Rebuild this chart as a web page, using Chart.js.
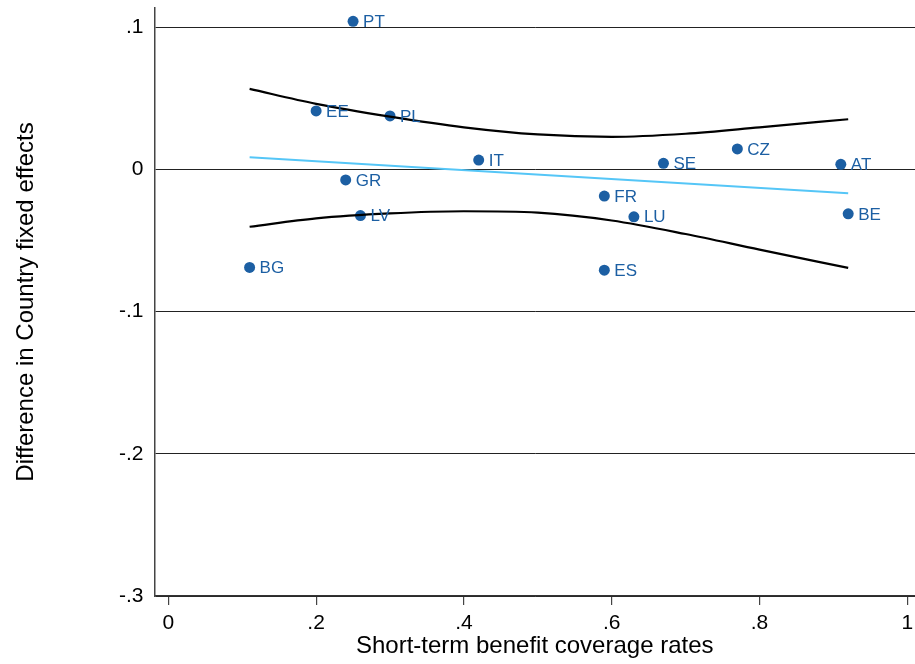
<!DOCTYPE html>
<html>
<head>
<meta charset="utf-8">
<script src="https://cdn.jsdelivr.net/npm/chart.js@4.4.1/dist/chart.umd.min.js"></script>
<style>
  html, body { margin: 0; padding: 0; background: #fff; }
  #wrap { width: 915px; height: 664px; }
</style>
</head>
<body>
<div id="wrap"><canvas id="c" width="915" height="664"></canvas></div>
<script>
// Country observations
const countries = ["PT","EE","PL","IT","GR","LV","BG","SE","CZ","AT","FR","LU","BE","ES"];
const coverage  = [0.25, 0.20, 0.30, 0.42, 0.24, 0.26, 0.11, 0.67, 0.77, 0.91, 0.59, 0.63, 0.92, 0.59];
const fixedDiff = [0.104, 0.041, 0.0375, 0.0065, -0.0075, -0.0325, -0.069, 0.0042, 0.0143, 0.0035, -0.0188, -0.0334, -0.0313, -0.0709];

// Linear fit and confidence bounds
const fitX     = [0.11, 0.92];
const fitY     = [0.0085, -0.0168];
const ciX      = [0.11, 0.2, 0.3, 0.4, 0.5, 0.6, 0.7, 0.8, 0.92];
const ciUpper  = [0.0565, 0.046, 0.037, 0.0295, 0.0245, 0.0228, 0.025, 0.0295, 0.0352];
const ciLower  = [-0.0404, -0.0345, -0.031, -0.0295, -0.0305, -0.036, -0.0455, -0.0565, -0.0693];

// Tick values
const xTicks = [0, 0.2, 0.4, 0.6, 0.8, 1];
const yTicks = [-0.3, -0.2, -0.1, 0, 0.1];

const xTitle = "Short-term benefit coverage rates";
const yTitle = "Difference in Country fixed effects";

const FONT = "'Liberation Sans', Arial, Helvetica, sans-serif";
const BLUE = "#1c5fa3";

function stataFmt(v) {
  let r = Math.round(v * 10) / 10;
  if (Math.abs(r) < 1e-9) return "0";
  let s = String(r);
  return s.replace(/^(-?)0\./, "$1.");
}

const pts = coverage.map((x, i) => ({ x: x, y: fixedDiff[i] }));
const fitPts = fitX.map((x, i) => ({ x: x, y: fitY[i] }));
const upPts = ciX.map((x, i) => ({ x: x, y: ciUpper[i] }));
const loPts = ciX.map((x, i) => ({ x: x, y: ciLower[i] }));

const labelPlugin = {
  id: 'pointLabels',
  afterDatasetsDraw(chart) {
    const meta = chart.getDatasetMeta(0);
    const ctx = chart.ctx;
    ctx.save();
    ctx.font = "17px " + FONT;
    ctx.fillStyle = BLUE;
    ctx.textAlign = "left";
    ctx.textBaseline = "middle";
    meta.data.forEach((el, i) => {
      ctx.fillText(countries[i], el.x + 10, el.y + 1);
    });
    ctx.restore();
  }
};

function zeroPad(s) {
  s.paddingTop = 0; s.paddingBottom = 0; s.paddingLeft = 0; s.paddingRight = 0;
}

new Chart(document.getElementById('c'), {
  type: 'scatter',
  data: {
    datasets: [
      {
        label: 'countries',
        data: pts,
        backgroundColor: BLUE,
        borderColor: BLUE,
        pointRadius: 5.5,
        pointHoverRadius: 5.5,
        borderWidth: 0,
        order: 3
      },
      {
        label: 'fit',
        type: 'line',
        data: fitPts,
        borderColor: '#55c6f7',
        borderWidth: 2,
        pointRadius: 0,
        fill: false,
        order: 1
      },
      {
        label: 'upper',
        type: 'line',
        data: upPts,
        borderColor: '#000',
        borderWidth: 2.2,
        pointRadius: 0,
        cubicInterpolationMode: 'monotone',
        fill: false,
        order: 1
      },
      {
        label: 'lower',
        type: 'line',
        data: loPts,
        borderColor: '#000',
        borderWidth: 2.2,
        pointRadius: 0,
        cubicInterpolationMode: 'monotone',
        fill: false,
        order: 1
      }
    ]
  },
  options: {
    responsive: false,
    animation: false,
    events: [],
    layout: { autoPadding: false, padding: { top: 8, right: 0, left: 0, bottom: 0 } },
    plugins: {
      legend: { display: false },
      tooltip: { enabled: false }
    },
    scales: {
      x: {
        type: 'linear',
        min: -0.0187,
        max: 1.0104,
        afterBuildTicks: (s) => { s.ticks = xTicks.map(v => ({ value: v })); },
        afterFit: (s) => { s.height = 68; zeroPad(s); },
        ticks: {
          callback: (v) => stataFmt(v),
          font: { family: FONT, size: 21 },
          color: '#000',
          padding: 6,
          maxRotation: 0,
          autoSkip: false
        },
        grid: {
          display: true,
          drawOnChartArea: false,
          drawTicks: true,
          tickLength: 9,
          color: '#444',
          lineWidth: 1.2
        },
        border: { display: true, color: '#333', width: 1.5 },
        title: {
          display: true,
          text: xTitle,
          font: { family: FONT, size: 24, lineHeight: 1.2 },
          color: '#000',
          padding: { top: 0, bottom: 3 }
        }
      },
      y: {
        type: 'linear',
        min: -0.3,
        max: 0.1134,
        afterBuildTicks: (s) => { s.ticks = yTicks.map(v => ({ value: v })); },
        afterFit: (s) => { s.width = 154.5; zeroPad(s); },
        ticks: {
          callback: (v) => stataFmt(v),
          font: { family: FONT, size: 21 },
          color: '#000',
          padding: 11,
          autoSkip: false
        },
        grid: {
          display: true,
          drawOnChartArea: true,
          drawTicks: false,
          color: '#222',
          lineWidth: 1
        },
        border: { display: true, color: '#444', width: 1.5 },
        title: {
          display: true,
          text: yTitle,
          font: { family: FONT, size: 24, lineHeight: 1.2 },
          color: '#000',
          padding: { top: 12, bottom: 0 }
        }
      }
    }
  },
  plugins: [labelPlugin]
});
</script>
</body>
</html>
